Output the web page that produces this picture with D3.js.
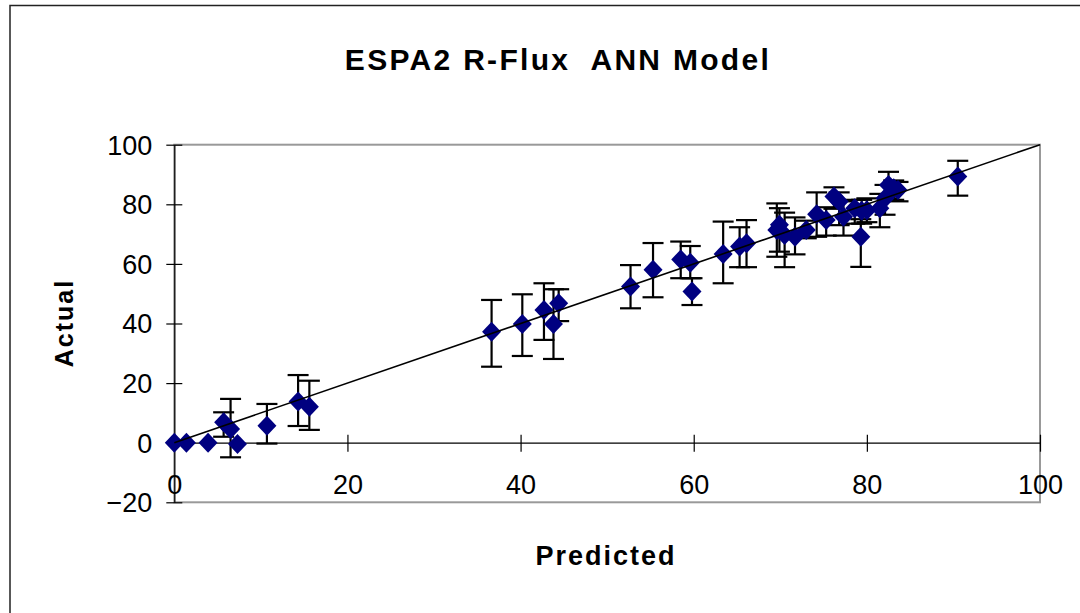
<!DOCTYPE html>
<html><head><meta charset="utf-8">
<script src="https://cdn.jsdelivr.net/npm/d3@7"></script>
<style>html,body{margin:0;padding:0;background:#fff;}svg{display:block;}</style>
</head><body>
<script>
// ---- data ----
const predicted = [0, 1.4, 3.9, 5.7, 6.5, 7.3, 10.7, 14.3, 15.6, 36.65, 40.2, 42.7, 43.8, 44.4, 52.7, 55.3, 58.5, 59.6, 59.8, 63.4, 65.3, 66.1, 69.6, 69.9, 70.5, 71.7, 73.0, 74.2, 75.3, 76.2, 76.8, 77.3, 78.6, 79.4, 79.3, 80.0, 81.5, 82.1, 82.5, 83.1, 83.6, 90.5];
const actual    = [0, 0, 0, 6.9, 4.6, -0.4, 5.7, 13.8, 12.1, 37.2, 39.8, 44.5, 39.8, 46.8, 52.4, 58.0, 61.5, 60.4, 50.7, 63.3, 65.8, 66.9, 71.4, 73.1, 69.7, 69.1, 71.4, 76.7, 74.7, 82.6, 80.9, 75.8, 78.7, 77.8, 69.1, 78.0, 78.7, 82.0, 86.5, 85.4, 84.8, 89.3];
const errLow    = [0, 0, 0, 2.0, -4.9, -0.4, -0.3, 5.6, 4.3, 25.5, 29.1, 34.5, 28.1, 40.8, 45.1, 48.8, 55.2, 55.2, 46.2, 53.5, 58.9, 58.9, 62.4, 64.1, 58.9, 63.2, 68.6, 69.1, 69.5, 78.5, 73.0, 69.5, 73.5, 73.5, 59.0, 74.0, 72.3, 76.5, 82.0, 81.5, 81.0, 82.9];
const errHigh   = [0, 0, 0, 10.2, 14.7, -0.4, 13.0, 22.7, 20.8, 47.9, 49.8, 53.5, 51.5, 51.5, 59.6, 67.0, 67.5, 66.0, 55.2, 74.2, 72.3, 74.7, 80.3, 78.7, 77.2, 75.6, 74.5, 84.0, 79.0, 85.7, 84.0, 81.0, 81.5, 81.5, 75.0, 82.0, 83.5, 86.5, 90.9, 88.0, 87.5, 94.6];
const xTicks = [0, 20, 40, 60, 80, 100];
const yTicks = [-20, 0, 20, 40, 60, 80, 100];
const title = "ESPA2 R-Flux  ANN Model";
const xTitle = "Predicted";
const yTitle = "Actual";

// ---- layout ----
const W = 1080, H = 613;
const pLeft = 174.3, pRight = 1040, pTop = 144.7, pBottom = 502.3;
const font = "'Liberation Sans', Arial, sans-serif";

const svg = d3.select("body").append("svg").attr("width", W).attr("height", H);
svg.append("rect").attr("width", W).attr("height", H).attr("fill", "#fff");

// outer chart frame (right/bottom fall outside the picture)
svg.append("rect").attr("x", 10).attr("y", 5.5).attr("width", 1200).attr("height", 800)
  .attr("fill", "none").attr("stroke", "#222").attr("stroke-width", 1.5);

const x = d3.scaleLinear().domain([0, 100]).range([pLeft, pRight]);
const y = d3.scaleLinear().domain([-20, 100]).range([pBottom, pTop]);

// plot area border (gray)
svg.append("rect").attr("x", x(0)).attr("y", y(100)).attr("width", x(100) - x(0)).attr("height", y(-20) - y(100))
  .attr("fill", "none").attr("stroke", "#999").attr("stroke-width", 2);

// y axis
const yAxis = d3.axisLeft(y).tickValues(yTicks).tickSize(0).tickPadding(22);
const gy = svg.append("g").attr("transform", `translate(${x(0)},0)`).call(yAxis);
gy.select(".domain").attr("stroke", "#000").attr("stroke-width", 1.2);
gy.selectAll(".tick text").attr("font-family", font).attr("font-size", 27).attr("fill", "#000").attr("dy", "0.35em");
gy.selectAll(".tick").append("line").attr("x1", -8).attr("x2", 8).attr("stroke", "#000").attr("stroke-width", 1.2);

// x axis on y=0
const xAxis = d3.axisBottom(x).tickValues(xTicks).tickSize(0).tickPadding(0).tickSizeOuter(0);
const gx = svg.append("g").attr("transform", `translate(0,${y(0)})`).call(xAxis);
gx.select(".domain").attr("stroke", "#000").attr("stroke-width", 1.2);
gx.selectAll(".tick text").attr("font-family", font).attr("font-size", 27).attr("fill", "#000")
  .attr("y", y(-20) - y(0) - 8).attr("dy", "0");
gx.selectAll(".tick").filter(d => d !== 0).append("line").attr("y1", -8).attr("y2", 9).attr("stroke", "#000").attr("stroke-width", 1.2);

// data table
const data = predicted.map((p, i) => ({ p, a: actual[i], lo: errLow[i], hi: errHigh[i] }));

// error bars
const eb = svg.append("g").attr("stroke", "#000").attr("stroke-width", 2.2);
const cap = 10.5;
data.filter(d => d.hi !== d.lo).forEach(d => {
  eb.append("line").attr("x1", x(d.p)).attr("x2", x(d.p)).attr("y1", y(d.lo)).attr("y2", y(d.hi));
  eb.append("line").attr("x1", x(d.p) - cap).attr("x2", x(d.p) + cap).attr("y1", y(d.lo)).attr("y2", y(d.lo));
  eb.append("line").attr("x1", x(d.p) - cap).attr("x2", x(d.p) + cap).attr("y1", y(d.hi)).attr("y2", y(d.hi));
});

// diamond markers
const hw = 9.5, hh = 10;
svg.append("g").selectAll("path").data(data).join("path")
  .attr("d", d => { const cx = x(d.p), cy = y(d.a); return `M${cx},${cy - hh}L${cx + hw},${cy}L${cx},${cy + hh}L${cx - hw},${cy}Z`; })
  .attr("fill", "#000080");

// 1:1 line
svg.append("line").attr("x1", x(0)).attr("y1", y(0)).attr("x2", x(100)).attr("y2", y(100))
  .attr("stroke", "#000").attr("stroke-width", 1.6);

// titles
svg.append("text").attr("x", 558).attr("y", 70).attr("text-anchor", "middle").style("white-space", "pre")
  .attr("font-family", font).attr("font-weight", "bold").attr("font-size", 30).attr("letter-spacing", 2.3)
  .text(title);
svg.append("text").attr("x", 606).attr("y", 565).attr("text-anchor", "middle")
  .attr("font-family", font).attr("font-weight", "bold").attr("font-size", 27).attr("letter-spacing", 2)
  .text(xTitle);
svg.append("text").attr("transform", "translate(73,323) rotate(-90)").attr("text-anchor", "middle")
  .attr("font-family", font).attr("font-weight", "bold").attr("font-size", 25).attr("letter-spacing", 2)
  .text(yTitle);
</script>
</body></html>
